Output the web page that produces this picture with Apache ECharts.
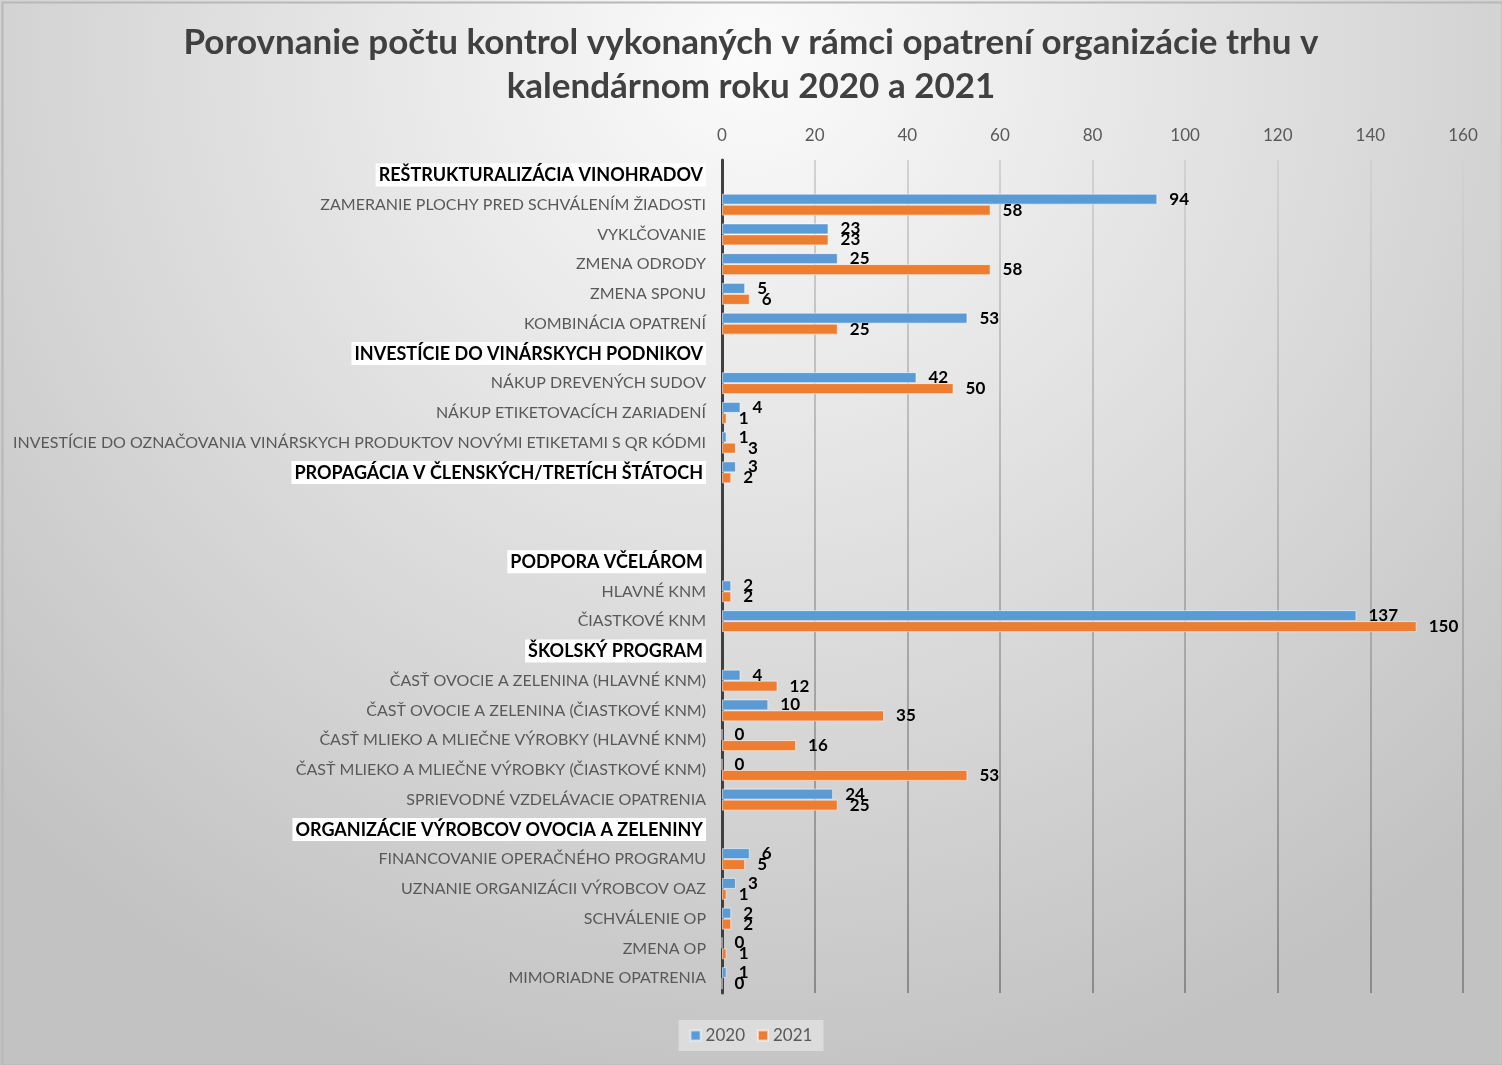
<!DOCTYPE html>
<html>
<head>
<meta charset="utf-8">
<script src="https://cdn.jsdelivr.net/npm/echarts@6/dist/echarts.min.js"></script>
<style>
html,body{margin:0;padding:0;background:#fff;}
#chart{width:1502px;height:1065px;}
</style>
</head>
<body>
<div id="chart"></div>
<script>
var categories = [
  "REŠTRUKTURALIZÁCIA VINOHRADOV",
  "ZAMERANIE PLOCHY PRED SCHVÁLENÍM ŽIADOSTI",
  "VYKLČOVANIE",
  "ZMENA ODRODY",
  "ZMENA SPONU",
  "KOMBINÁCIA OPATRENÍ",
  "INVESTÍCIE DO VINÁRSKYCH PODNIKOV",
  "NÁKUP DREVENÝCH SUDOV",
  "NÁKUP ETIKETOVACÍCH ZARIADENÍ",
  "INVESTÍCIE DO OZNAČOVANIA VINÁRSKYCH PRODUKTOV NOVÝMI ETIKETAMI S QR KÓDMI",
  "PROPAGÁCIA V ČLENSKÝCH/TRETÍCH ŠTÁTOCH",
  " ",
  "  ",
  "PODPORA VČELÁROM",
  "HLAVNÉ KNM",
  "ČIASTKOVÉ KNM",
  "ŠKOLSKÝ PROGRAM",
  "ČASŤ OVOCIE A ZELENINA (HLAVNÉ KNM)",
  "ČASŤ OVOCIE A ZELENINA (ČIASTKOVÉ KNM)",
  "ČASŤ MLIEKO A MLIEČNE VÝROBKY (HLAVNÉ KNM)",
  "ČASŤ MLIEKO A MLIEČNE VÝROBKY (ČIASTKOVÉ KNM)",
  "SPRIEVODNÉ VZDELÁVACIE OPATRENIA",
  "ORGANIZÁCIE VÝROBCOV OVOCIA A ZELENINY",
  "FINANCOVANIE OPERAČNÉHO PROGRAMU",
  "UZNANIE ORGANIZÁCII VÝROBCOV OAZ",
  "SCHVÁLENIE OP",
  "ZMENA OP",
  "MIMORIADNE OPATRENIA"
];
var headers = [
  "REŠTRUKTURALIZÁCIA VINOHRADOV",
  "INVESTÍCIE DO VINÁRSKYCH PODNIKOV",
  "PROPAGÁCIA V ČLENSKÝCH/TRETÍCH ŠTÁTOCH",
  "PODPORA VČELÁROM",
  "ŠKOLSKÝ PROGRAM",
  "ORGANIZÁCIE VÝROBCOV OVOCIA A ZELENINY"
];
var values2020 = [null, 94, 23, 25, 5, 53, null, 42, 4, 1, 3, null, null, null, 2, 137, null, 4, 10, 0, 0, 24, null, 6, 3, 2, 0, 1];
var values2021 = [null, 58, 23, 58, 6, 25, null, 50, 1, 3, 2, null, null, null, 2, 150, null, 12, 35, 16, 53, 25, null, 5, 1, 2, 1, 0];
var xTicks = [0, 20, 40, 60, 80, 100, 120, 140, 160];
var seriesNames = ["2020", "2021"];

var FONT = "Lato";
var chart = echarts.init(document.getElementById('chart'), null, {renderer: 'canvas'});
var labelStyle = {
  show: true, position: 'right', distance: 12,
  fontFamily: FONT, fontWeight: 'bold', fontSize: 17, color: '#000'
};
var option = {
  backgroundColor: {
    type: 'radial', x: 0.5, y: 0.05, r: 1.0,
    colorStops: [{offset: 0, color: '#fbfbfb'}, {offset: 1, color: '#c2c2c2'}]
  },
  animation: false,
  title: {
    text: 'Porovnanie počtu kontrol vykonaných v rámci opatrení organizácie trhu v\nkalendárnom roku 2020 a 2021',
    left: 'center', top: 16,
    textStyle: {fontFamily: FONT, fontWeight: 'bold', fontSize: 35, color: '#404040', lineHeight: 44}
  },
  legend: {
    data: seriesNames,
    bottom: 14, left: 'center',
    backgroundColor: '#dcdcdc',
    padding: [7, 11, 7, 11],
    itemWidth: 10, itemHeight: 10, itemGap: 12,
    icon: 'rect',
    textStyle: {fontFamily: FONT, fontSize: 17, color: '#595959'}
  },
  grid: {left: 722, right: 39, top: 160, bottom: 72, containLabel: false},
  xAxis: {
    type: 'value', position: 'top', min: 0, max: 160, interval: 20,
    axisLine: {show: false}, axisTick: {show: false},
    axisLabel: {fontFamily: FONT, fontSize: 17, color: '#595959', margin: 16,
      formatter: function (v) { return xTicks.indexOf(v) >= 0 ? String(v) : ''; }},
    splitLine: {show: true, lineStyle: {width: 2, color: {
      type: 'linear', x: 0, y: 0, x2: 0, y2: 1,
      colorStops: [{offset: 0, color: '#d2d2d2'}, {offset: 1, color: '#8a8a8a'}]
    }}}
  },
  yAxis: {
    type: 'category', data: categories, inverse: true,
    axisLine: {show: true, lineStyle: {color: '#404040', width: 3}},
    axisTick: {show: false},
    axisLabel: {
      interval: 0, margin: 16,
      fontFamily: FONT, fontSize: 16, color: '#595959',
      formatter: function (v) {
        if (headers.indexOf(v) >= 0) return '{h|' + v + '}';
        return v;
      },
      rich: {
        h: {fontFamily: FONT, fontWeight: 'bold', fontSize: 18, color: '#000',
            backgroundColor: '#ffffff', padding: [3, 3, 2, 3]}
      }
    }
  },
  series: [
    {
      name: seriesNames[0], type: 'bar', data: values2020,
      barWidth: 11, barGap: '0%',
      itemStyle: {color: '#5b9bd5', borderColor: 'rgba(255,255,255,0.55)', borderWidth: 1},
      label: labelStyle
    },
    {
      name: seriesNames[1], type: 'bar', data: values2021,
      barWidth: 11, barGap: '0%',
      itemStyle: {color: '#ed7d31', borderColor: 'rgba(255,255,255,0.55)', borderWidth: 1},
      label: labelStyle
    }
  ],
  graphic: [{
    type: 'rect', left: 0, top: 0, silent: true, z: 100,
    shape: {x: 0.5, y: 0.5, width: 1500, height: 1063},
    style: {fill: 'none', stroke: '#b8b8b8', lineWidth: 2}
  }]
};
chart.setOption(option);
</script>
</body>
</html>
